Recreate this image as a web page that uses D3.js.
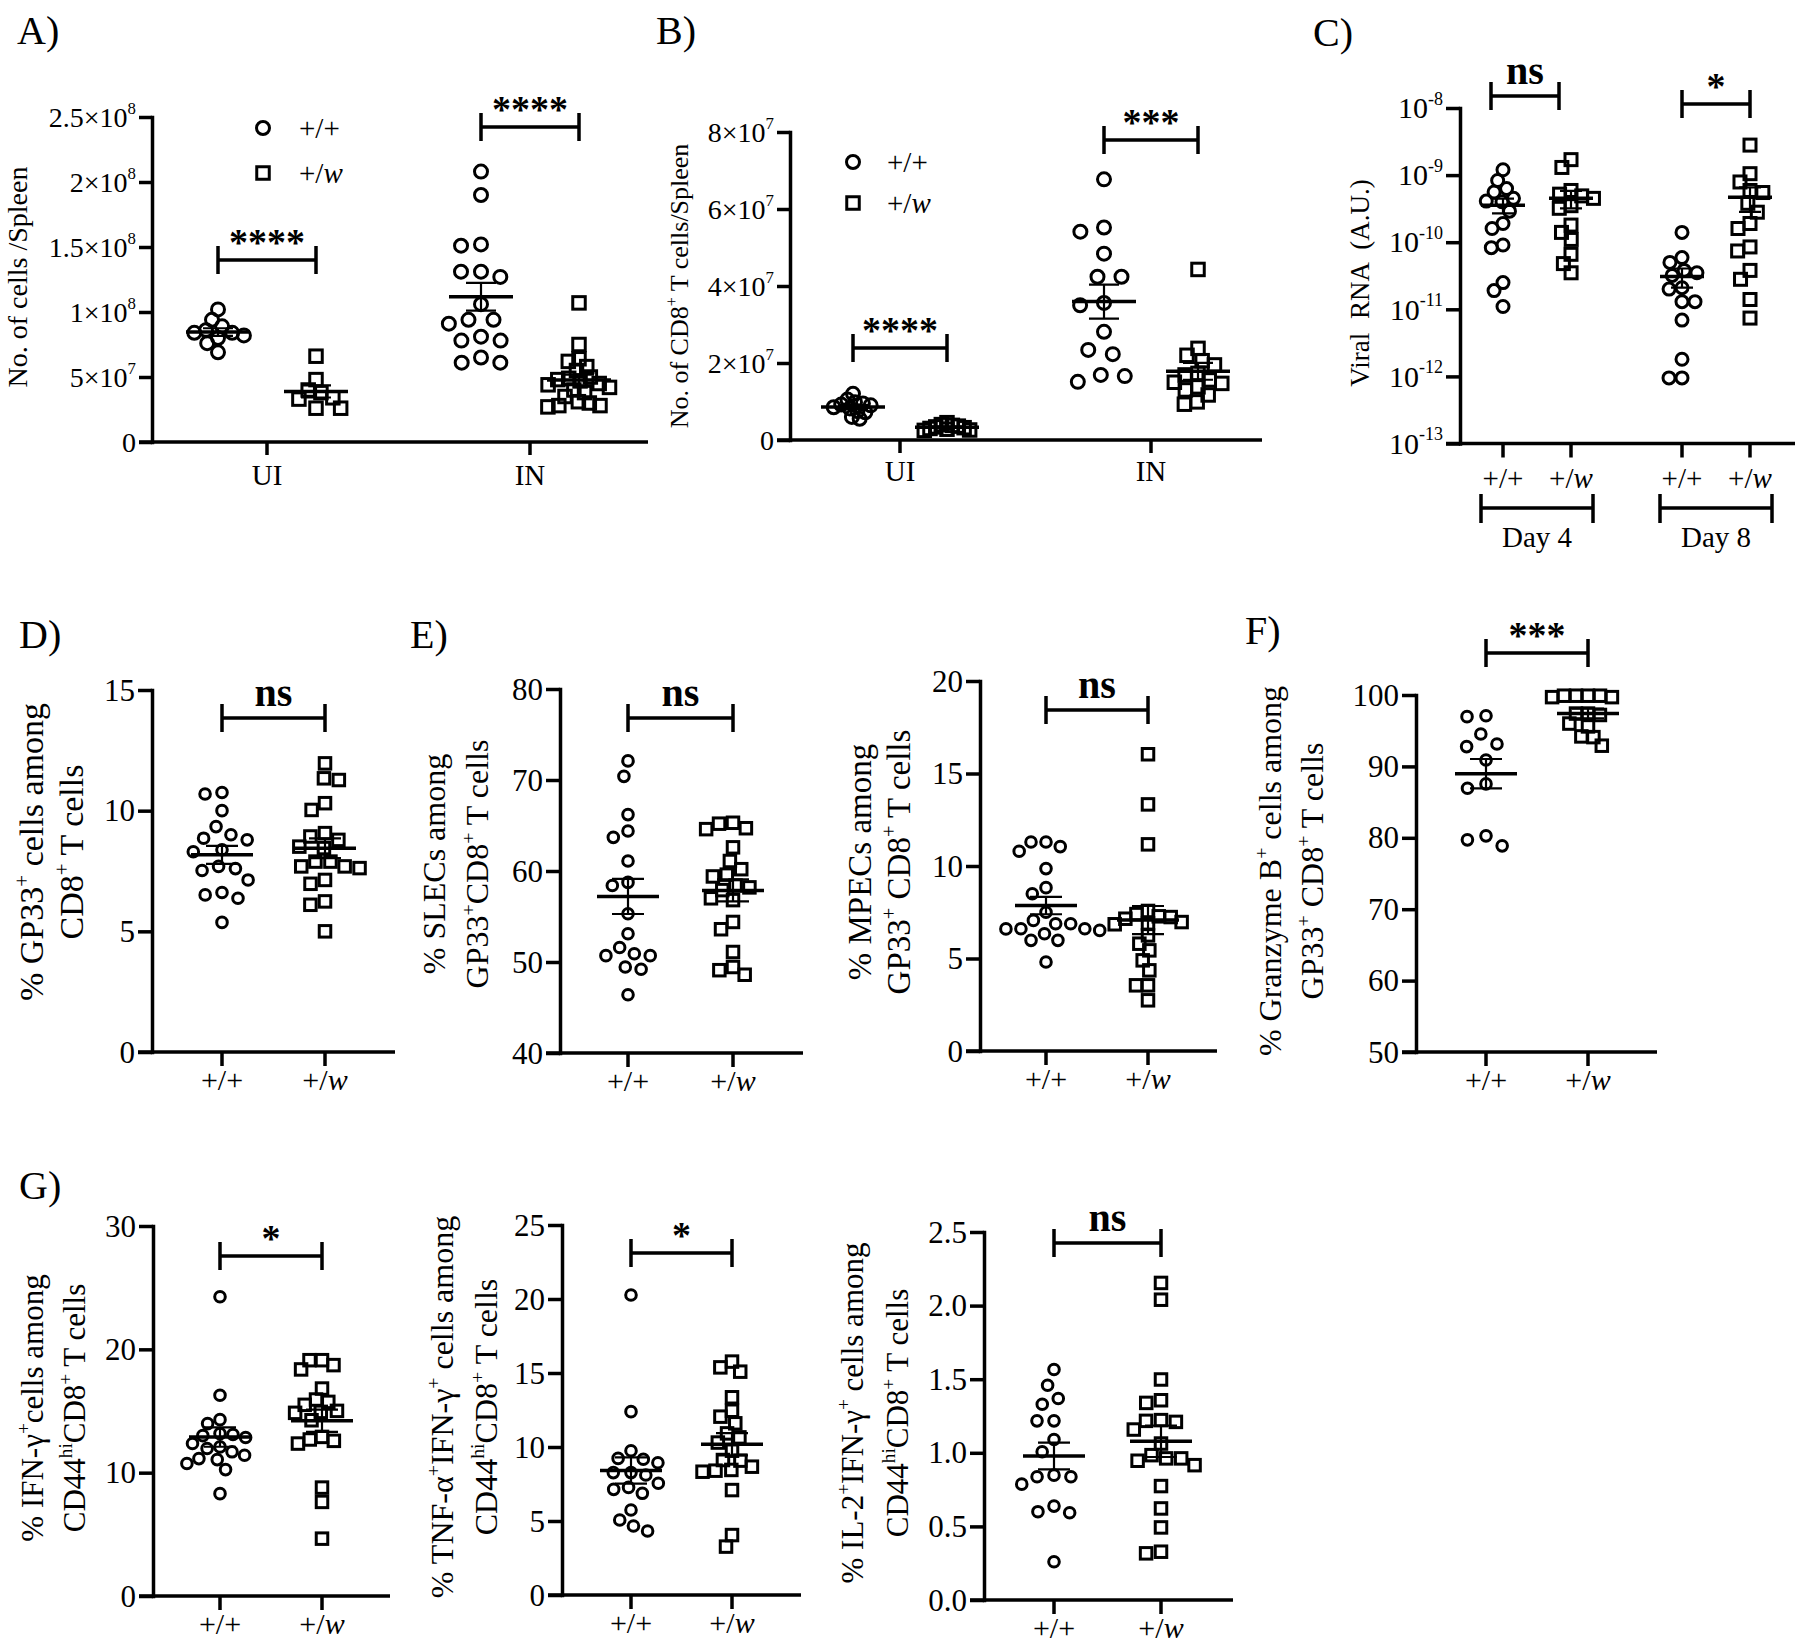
<!DOCTYPE html>
<html><head><meta charset="utf-8">
<script src="https://cdn.jsdelivr.net/npm/d3@7"></script>
<style>
body{margin:0;background:#fff}
svg{display:block}
text{font-family:"Liberation Serif","Times New Roman",serif;fill:#000}
</style>
</head><body><script>
// ---------------- DATA ----------------
const genotypes = ["+/+", "+/w"];
const aCategories = ["UI", "IN"];
const cCategories = ["Day 4", "Day 8"];

// Panel A: No. of cells / spleen
const aUIwt = [1.02e8, 0.94e8, 0.89e8, 0.86e8, 0.84e8, 0.82e8, 0.84e8, 0.80e8, 0.76e8, 0.69e8];
const aUIw  = [0.66e8, 0.48e8, 0.38e8, 0.40e8, 0.34e8, 0.33e8, 0.26e8, 0.26e8];
const aINwt = [2.08e8, 1.90e8, 1.51e8, 1.52e8, 1.27e8, 1.31e8, 1.31e8, 1.06e8, 0.94e8, 0.91e8, 0.94e8, 0.81e8, 0.78e8, 0.78e8, 0.65e8, 0.61e8, 0.61e8];
const aINw  = [1.07e8, 0.75e8, 0.64e8, 0.62e8, 0.58e8, 0.55e8, 0.50e8, 0.49e8, 0.48e8, 0.47e8, 0.45e8, 0.44e8, 0.42e8, 0.40e8, 0.38e8, 0.35e8, 0.31e8, 0.30e8, 0.28e8, 0.28e8, 0.27e8];
const aTicks = [0, 5e7, 1e8, 1.5e8, 2e8, 2.5e8];
const aTickLabels = ["0", "5×10^7", "1×10^8", "1.5×10^8", "2×10^8", "2.5×10^8"];
const aSig = ["****", "****"];

// Panel B: No. of CD8+ T cells / spleen
const bUIwt = [1.2e7, 1.05e7, 0.98e7, 0.95e7, 0.92e7, 0.9e7, 0.85e7, 0.82e7, 0.75e7, 0.72e7, 0.6e7, 0.55e7];
const bUIw  = [4.5e6, 4.0e6, 3.8e6, 3.6e6, 3.4e6, 3.2e6, 3.0e6, 2.8e6, 2.6e6, 2.5e6];
const bINwt = [6.77e7, 5.41e7, 5.52e7, 4.84e7, 4.24e7, 4.24e7, 3.5e7, 3.56e7, 2.81e7, 2.34e7, 2.23e7, 1.69e7, 1.66e7, 1.51e7];
const bINw  = [4.43e7, 2.38e7, 2.2e7, 2.06e7, 1.95e7, 1.73e7, 1.69e7, 1.56e7, 1.5e7, 1.47e7, 1.38e7, 1.30e7, 1.17e7, 0.99e7, 0.93e7];
const bTicks = [0, 2e7, 4e7, 6e7, 8e7];
const bTickLabels = ["0", "2×10^7", "4×10^7", "6×10^7", "8×10^7"];
const bSig = ["****", "***"];

// Panel C: viral RNA (log)
const cD4wt = [1.2e-9, 8.3e-10, 6.3e-10, 5.6e-10, 4.5e-10, 4.1e-10, 4.0e-10, 2.9e-10, 1.9e-10, 1.6e-10, 9.1e-11, 8.3e-11, 2.5e-11, 1.9e-11, 1.1e-11];
const cD4w  = [1.7e-9, 1.3e-9, 5.9e-10, 5.2e-10, 4.9e-10, 4.5e-10, 3.5e-10, 3.2e-10, 1.8e-10, 1.4e-10, 1.1e-10, 6.6e-11, 4.8e-11, 3.5e-11];
const cD8wt = [1.4e-10, 5.9e-11, 5.0e-11, 3.8e-11, 3.5e-11, 3.2e-11, 2.1e-11, 2.0e-11, 1.3e-11, 1.3e-11, 6.9e-12, 1.8e-12, 9.5e-13, 9.5e-13];
const cD8w  = [2.8e-9, 1.05e-9, 7.9e-10, 5.9e-10, 5.5e-10, 3.8e-10, 2.8e-10, 1.9e-10, 1.6e-10, 8.5e-11, 7.4e-11, 3.8e-11, 2.8e-11, 1.4e-11, 7.4e-12];
const cTicks = [1e-13, 1e-12, 1e-11, 1e-10, 1e-9, 1e-8];
const cTickLabels = ["10^-13", "10^-12", "10^-11", "10^-10", "10^-9", "10^-8"];
const cSig = ["ns", "*"];

// Panel D: % GP33+ among CD8+
const dWt = [10.75, 10.69, 10.0, 9.34, 9.0, 8.86, 8.79, 8.38, 8.3, 7.69, 7.6, 7.52, 7.13, 6.61, 6.51, 6.37, 5.37];
const dW  = [11.96, 11.34, 11.27, 10.31, 10.03, 9.07, 8.93, 8.79, 8.51, 8.45, 7.89, 7.89, 7.69, 7.62, 7.69, 7.13, 6.97, 6.24, 6.1, 5.0];
const dTicks = [0, 5, 10, 15];
const dTickLabels = ["0", "5", "10", "15"];

// Panel E (left): % SLECs
const e1Wt = [72.1, 70.4, 66.2, 64.4, 63.7, 61.1, 58.75, 58.4, 55.3, 53.1, 51.6, 50.7, 50.7, 50.9, 49.2, 49.45, 46.4];
const e1W  = [65.2, 64.6, 64.7, 65.3, 62.6, 61.1, 60.2, 59.4, 59.6, 58.2, 58.4, 57.9, 57.0, 56.8, 54.4, 53.6, 51.1, 49.45, 49.1, 48.6];
const e1Ticks = [40, 50, 60, 70, 80];
const e1TickLabels = ["40", "50", "60", "70", "80"];

// Panel E (right): % MPECs
const e2Wt = [11.3, 11.3, 11.05, 10.8, 9.86, 8.83, 8.5, 7.5, 7.06, 6.88, 6.88, 6.61, 6.52, 6.61, 6.6, 6.34, 5.98, 5.98, 4.81];
const e2W  = [16.04, 13.33, 11.17, 7.57, 7.4, 7.28, 7.24, 7.15, 6.97, 6.9, 6.85, 6.25, 5.8, 5.44, 4.9, 4.36, 3.55, 3.55, 2.74];
const e2Ticks = [0, 5, 10, 15, 20];
const e2TickLabels = ["0", "5", "10", "15", "20"];

// Panel F: % Granzyme B+
const fWt = [97.1, 96.97, 94.54, 93.14, 92.77, 90.9, 87.55, 86.94, 80.27, 79.71, 78.87];
const fW  = [99.7, 99.9, 99.9, 99.9, 99.9, 99.7, 97.4, 97.4, 97.2, 96.0, 95.6, 94.2, 94.1, 92.9];
const fTicks = [50, 60, 70, 80, 90, 100];
const fTickLabels = ["50", "60", "70", "80", "90", "100"];

// Panel G1: % IFN-g+
const g1Wt = [24.26, 16.28, 14.3, 13.98, 13.17, 13.09, 13.0, 12.85, 12.36, 12.09, 11.96, 11.69, 11.41, 11.14, 11.06, 10.74, 10.25, 8.3];
const g1W  = [19.12, 19.12, 18.72, 18.37, 16.82, 15.93, 15.74, 15.5, 15.01, 14.93, 14.85, 14.25, 12.9, 12.69, 12.58, 12.36, 8.79, 7.63, 4.65];
const g1Ticks = [0, 10, 20, 30];
const g1TickLabels = ["0", "10", "20", "30"];

// Panel G2: % TNF-a+ IFN-g+
const g2Wt = [20.27, 12.39, 9.75, 9.23, 8.94, 9.17, 8.11, 8.27, 8.27, 7.55, 7.14, 6.87, 7.27, 5.74, 5.07, 4.32, 4.66];
const g2W  = [15.77, 15.38, 15.09, 13.36, 12.45, 12.05, 11.6, 10.92, 10.65, 10.3, 9.75, 9.12, 9.08, 8.67, 8.45, 8.4, 8.33, 7.09, 4.05, 3.27];
const g2Ticks = [0, 5, 10, 15, 20, 25];
const g2TickLabels = ["0", "5", "10", "15", "20", "25"];

// Panel G3: % IL-2+ IFN-g+
const g3Wt = [1.566, 1.459, 1.369, 1.33, 1.217, 1.217, 1.09, 1.007, 0.848, 0.837, 0.837, 0.787, 0.638, 0.6, 0.593, 0.26];
const g3W  = [2.154, 2.04, 1.498, 1.339, 1.357, 1.222, 1.158, 1.21, 1.217, 1.063, 0.984, 0.946, 0.962, 0.916, 0.962, 0.774, 0.622, 0.493, 0.317, 0.328];
const g3Ticks = [0, 0.5, 1.0, 1.5, 2.0, 2.5];
const g3TickLabels = ["0.0", "0.5", "1.0", "1.5", "2.0", "2.5"];

const singleSig = { D: "ns", E1: "ns", E2: "ns", F: "***", G1: "*", G2: "*", G3: "ns" };

// ---------------- DRAWING ----------------
const W = 1800, H = 1652;
const AXW = 3.5;
const svg = d3.select("body").append("svg").attr("width", W).attr("height", H);
svg.append("rect").attr("width", W).attr("height", H).attr("fill", "#fff");

function rich(sel, str, fs, supScale = 0.62, supRise = 0.42) {
  const re = /\^\{([^}]*)\}|~\{([^}]*)\}|([^\^~]+)/g;
  let m, shift = 0;
  while ((m = re.exec(str))) {
    if (m[1] !== undefined) {
      const ns = -supRise * fs;
      sel.append("tspan").attr("dy", ns - shift).attr("font-size", fs * supScale).text(m[1]);
      shift = ns;
    } else if (m[2] !== undefined) {
      sel.append("tspan").attr("dy", -shift).attr("font-size", fs).attr("font-style", "italic").text(m[2]);
      shift = 0;
    } else {
      sel.append("tspan").attr("dy", -shift).attr("font-size", fs).text(m[3]);
      shift = 0;
    }
  }
}
const genoMarkup = g => g.replace("w", "~{w}");

function swarm(values, y, d) {
  const pts = values.map(v => ({ v, y: y(v) })).sort((a, b) => a.y - b.y);
  const placed = [];
  for (const p of pts) {
    const cands = [0];
    for (const q of placed) {
      const dy = Math.abs(q.y - p.y);
      if (dy < d) {
        const dx = Math.sqrt(d * d - dy * dy);
        cands.push(q.x + dx + 1e-6, q.x - dx - 1e-6);
      }
    }
    cands.sort((a, b) => Math.abs(a) - Math.abs(b) || a - b);
    for (const c of cands) {
      if (placed.every(q => (q.x - c) ** 2 + (q.y - p.y) ** 2 >= d * d - 1e-3)) { p.x = c; break; }
    }
    placed.push(p);
  }
  return pts;
}

function drawPanel(c) {
  const g = svg.append("g");
  const y = c.y;
  // Y axis
  const ax = d3.axisLeft(y).tickValues(c.ticks).tickSize(c.tickLen).tickSizeOuter(0).tickFormat("");
  const gy = g.append("g").attr("transform", `translate(${c.axisX},0)`).call(ax);
  gy.select(".domain").attr("stroke", "#000").attr("stroke-width", AXW).attr("stroke-linecap", "square");
  gy.selectAll(".tick line").attr("stroke", "#000").attr("stroke-width", AXW);
  c.ticks.forEach((t, i) => {
    const tx = g.append("text").attr("x", c.axisX - c.tickLen - 3)
      .attr("y", y(t) + 0.34 * c.tickFs).attr("text-anchor", "end").attr("font-size", c.tickFs);
    rich(tx, c.tickLabels[i].replace(/\^(.+)$/, "^{$1}"), c.tickFs, 0.6, 0.45);
  });
  // X axis
  const yb = y.range()[0];
  g.append("line").attr("x1", c.axisX - c.tickLen).attr("x2", c.xRight)
    .attr("y1", yb).attr("y2", yb).attr("stroke", "#000").attr("stroke-width", AXW);
  const pos = gr => c.xCat(gr.cat) + (c.xSub ? c.xSub(gr.gen) : 0);
  const tickXs = c.tickAtGroups ? c.groups.map(pos) : c.xCat.domain().map(k => c.xCat(k));
  tickXs.forEach(x => g.append("line").attr("x1", x).attr("x2", x).attr("y1", yb).attr("y2", yb + c.tickLen)
    .attr("stroke", "#000").attr("stroke-width", AXW));
  // X labels
  if (c.tickAtGroups) {
    c.groups.forEach(gr => {
      const t = g.append("text").attr("x", pos(gr)).attr("y", c.xLabelY).attr("text-anchor", "middle").attr("font-size", c.xLabelFs);
      rich(t, genoMarkup(gr.gen), c.xLabelFs);
    });
  } else {
    c.xCat.domain().forEach(k => g.append("text").attr("x", c.xCat(k)).attr("y", c.xLabelY)
      .attr("text-anchor", "middle").attr("font-size", c.xLabelFs).text(k));
  }
  // Title
  c.title.lines.forEach((ln, i) => {
    const t = g.append("text").attr("transform", `translate(${c.title.xs[i]},${c.title.cy}) rotate(-90)`)
      .attr("text-anchor", "middle").attr("font-size", c.title.fs);
    if (c.title.ws) t.attr("word-spacing", c.title.ws);
    rich(t, ln, c.title.fs);
  });
  // Points + mean/SEM
  c.groups.forEach(gr => {
    const cx = pos(gr);
    const pts = swarm(gr.values, y, gr.d);
    if (gr.gen === "+/+") {
      g.selectAll(null).data(pts).join("circle").attr("cx", p => cx + p.x).attr("cy", p => p.y)
        .attr("r", c.r).attr("fill", "none").attr("stroke", "#000").attr("stroke-width", c.sw);
    } else {
      g.selectAll(null).data(pts).join("rect").attr("x", p => cx + p.x - c.sq / 2).attr("y", p => p.y - c.sq / 2)
        .attr("width", c.sq).attr("height", c.sq).attr("fill", "none").attr("stroke", "#000").attr("stroke-width", c.sw);
    }
    const m = d3.mean(gr.values);
    const sem = d3.deviation(gr.values) / Math.sqrt(gr.values.length);
    g.append("line").attr("x1", cx - c.mw / 2).attr("x2", cx + c.mw / 2).attr("y1", y(m)).attr("y2", y(m))
      .attr("stroke", "#000").attr("stroke-width", 3.5);
    g.append("path").attr("d",
      `M${cx},${y(m + sem)}V${y(m - sem)}M${cx - c.cw / 2},${y(m + sem)}H${cx + c.cw / 2}M${cx - c.cw / 2},${y(m - sem)}H${cx + c.cw / 2}`)
      .attr("stroke", "#000").attr("stroke-width", 2.2).attr("fill", "none");
  });
  // Significance
  c.sig.forEach(s => {
    const dx = s.dx || 0;
    const x1 = (c.xSub ? c.xCat(s.cat) + c.xSub(genotypes[0]) : c.xCat(genotypes[0])) + dx;
    const x2 = (c.xSub ? c.xCat(s.cat) + c.xSub(genotypes[1]) : c.xCat(genotypes[1])) + dx;
    g.append("path").attr("d", `M${x1},${s.y - 14}V${s.y + 14}M${x1},${s.y}H${x2}M${x2},${s.y - 14}V${s.y + 14}`)
      .attr("stroke", "#000").attr("stroke-width", AXW).attr("fill", "none");
    const isNs = s.label === "ns";
    g.append("text").attr("x", (x1 + x2) / 2).attr("y", isNs ? s.y - 12 : s.y - 5)
      .attr("text-anchor", "middle").attr("font-weight", "bold").attr("font-size", isNs ? 40 : 38).text(s.label);
  });
  return g;
}

function panelLetter(txt, x, yb) {
  svg.append("text").attr("x", x).attr("y", yb).attr("font-size", 40).text(txt);
}
function legend(cx, cy1, cy2, tx, r, sq, sw) {
  svg.append("circle").attr("cx", cx).attr("cy", cy1).attr("r", r).attr("fill", "none").attr("stroke", "#000").attr("stroke-width", sw);
  svg.append("rect").attr("x", cx - sq / 2).attr("y", cy2 - sq / 2).attr("width", sq).attr("height", sq)
    .attr("fill", "none").attr("stroke", "#000").attr("stroke-width", sw);
  [cy1, cy2].forEach((cy, i) => {
    const t = svg.append("text").attr("x", tx).attr("y", cy + 10).attr("font-size", 29);
    rich(t, genoMarkup(genotypes[i]), 29);
  });
}

// ---- Panel A ----
panelLetter("A)", 17, 44);
drawPanel({
  axisX: 152, xRight: 648, tickLen: 13, tickFs: 28,
  y: d3.scaleLinear().domain([0, 2.5e8]).range([442, 117]),
  ticks: aTicks, tickLabels: aTickLabels,
  xCat: d3.scalePoint().domain(aCategories).range([267, 530]),
  xSub: d3.scalePoint().domain(genotypes).range([-49, 49]),
  groups: [
    { cat: "UI", gen: "+/+", values: aUIwt, d: 12 }, { cat: "UI", gen: "+/w", values: aUIw, d: 13 },
    { cat: "IN", gen: "+/+", values: aINwt, d: 20 }, { cat: "IN", gen: "+/w", values: aINw, d: 11 }],
  tickAtGroups: false, xLabelY: 485, xLabelFs: 29,
  title: { lines: ["No. of cells /Spleen"], xs: [27], cy: 277, fs: 28 },
  r: 6.5, sq: 12.5, sw: 3, mw: 64, cw: 30,
  sig: [{ cat: "UI", y: 260, label: aSig[0] }, { cat: "IN", y: 127, label: aSig[1] }]
});
legend(263, 128, 173, 299, 6.5, 12.5, 3);

// ---- Panel B ----
panelLetter("B)", 656, 44);
drawPanel({
  axisX: 790, xRight: 1262, tickLen: 13, tickFs: 28,
  y: d3.scaleLinear().domain([0, 8e7]).range([440, 132]),
  ticks: bTicks, tickLabels: bTickLabels,
  xCat: d3.scalePoint().domain(aCategories).range([900, 1151]),
  xSub: d3.scalePoint().domain(genotypes).range([-47, 47]),
  groups: [
    { cat: "UI", gen: "+/+", values: bUIwt, d: 8 }, { cat: "UI", gen: "+/w", values: bUIw, d: 6 },
    { cat: "IN", gen: "+/+", values: bINwt, d: 24 }, { cat: "IN", gen: "+/w", values: bINw, d: 13 }],
  tickAtGroups: false, xLabelY: 481, xLabelFs: 29,
  title: { lines: ["No. of CD8^{+} T cells/Spleen"], xs: [688], cy: 286, fs: 26 },
  r: 6.5, sq: 12.5, sw: 3, mw: 64, cw: 30,
  sig: [{ cat: "UI", y: 348, label: bSig[0] }, { cat: "IN", y: 140, label: bSig[1] }]
});
legend(853, 162, 203, 887, 6.5, 12.5, 3);

// ---- Panel C ----
panelLetter("C)", 1313, 46);
const cCfg = {
  axisX: 1460, xRight: 1795, tickLen: 14, tickFs: 30,
  y: d3.scaleLog().domain([1e-13, 1e-8]).range([443.5, 108]),
  ticks: cTicks, tickLabels: cTickLabels,
  xCat: d3.scalePoint().domain(cCategories).range([1537, 1716]),
  xSub: d3.scalePoint().domain(genotypes).range([-34, 34]),
  groups: [
    { cat: "Day 4", gen: "+/+", values: cD4wt, d: 12 }, { cat: "Day 4", gen: "+/w", values: cD4w, d: 12 },
    { cat: "Day 8", gen: "+/+", values: cD8wt, d: 13 }, { cat: "Day 8", gen: "+/w", values: cD8w, d: 13 }],
  tickAtGroups: true, xLabelY: 488, xLabelFs: 29,
  title: { lines: ["Viral RNA (A.U.)"], xs: [1369], cy: 283, fs: 27, ws: 7 },
  r: 6, sq: 12, sw: 3, mw: 44, cw: 22,
  sig: [{ cat: "Day 4", y: 96, label: cSig[0], dx: -12 }, { cat: "Day 8", y: 104, label: cSig[1] }]
};
drawPanel(cCfg);
cCategories.forEach(k => {
  const x1 = cCfg.xCat(k) + cCfg.xSub(genotypes[0]) - 22, x2 = cCfg.xCat(k) + cCfg.xSub(genotypes[1]) + 22;
  svg.append("path").attr("d", `M${x1},494V523M${x1},508H${x2}M${x2},494V523`).attr("stroke", "#000").attr("stroke-width", AXW).attr("fill", "none");
  svg.append("text").attr("x", cCfg.xCat(k)).attr("y", 547).attr("text-anchor", "middle").attr("font-size", 29).text(k);
});

// ---- Panels D-G (two-group) ----
function twoGroup(o) {
  drawPanel({
    axisX: o.axisX, xRight: o.xRight, tickLen: 14, tickFs: 31,
    y: d3.scaleLinear().domain(o.domain).range([o.yBot, o.yTop]),
    ticks: o.ticks, tickLabels: o.tickLabels,
    xCat: d3.scalePoint().domain(genotypes).range(o.gx), xSub: null,
    groups: [{ cat: genotypes[0], gen: "+/+", values: o.wt, d: o.d[0] }, { cat: genotypes[1], gen: "+/w", values: o.w, d: o.d[1] }],
    tickAtGroups: true, xLabelY: o.yBot + 38, xLabelFs: 30,
    title: { lines: o.title, xs: o.tx, cy: o.tcy, fs: o.tfs || 32 },
    r: 5.3, sq: 11.5, sw: 3, mw: 62, cw: 32,
    sig: [{ y: o.sigY, label: o.sig }]
  });
}

panelLetter("D)", 19, 648);
twoGroup({ axisX: 152, xRight: 395, yTop: 690, yBot: 1052, domain: [0, 15], ticks: dTicks, tickLabels: dTickLabels,
  gx: [222, 325], wt: dWt, w: dW, d: [17, 15], title: ["% GP33^{+} cells among", "CD8^{+} T cells"], tx: [43, 83], tcy: 852, tfs: 34,
  sigY: 718, sig: singleSig.D });

panelLetter("E)", 410, 648);
twoGroup({ axisX: 560, xRight: 803, yTop: 689, yBot: 1053, domain: [40, 80], ticks: e1Ticks, tickLabels: e1TickLabels,
  gx: [628, 733], wt: e1Wt, w: e1W, d: [16, 14], title: ["% SLECs among", "GP33^{+}CD8^{+} T cells"], tx: [445, 488], tcy: 864,
  sigY: 718, sig: singleSig.E1 });

twoGroup({ axisX: 980, xRight: 1217, yTop: 681, yBot: 1051, domain: [0, 20], ticks: e2Ticks, tickLabels: e2TickLabels,
  gx: [1046, 1148], wt: e2Wt, w: e2W, d: [15, 12], title: ["% MPECs among", "GP33^{+} CD8^{+} T cells"], tx: [871, 910], tcy: 862, tfs: 33,
  sigY: 710, sig: singleSig.E2 });

panelLetter("F)", 1245, 644);
twoGroup({ axisX: 1416, xRight: 1657, yTop: 695, yBot: 1052, domain: [50, 100], ticks: fTicks, tickLabels: fTickLabels,
  gx: [1486, 1588], wt: fWt, w: fW, d: [19, 12], title: ["% Granzyme B^{+} cells among", "GP33^{+} CD8^{+} T cells"], tx: [1281, 1323], tcy: 871,
  sigY: 653, sig: singleSig.F });

panelLetter("G)", 19, 1199);
twoGroup({ axisX: 153, xRight: 390, yTop: 1226, yBot: 1596, domain: [0, 30], ticks: g1Ticks, tickLabels: g1TickLabels,
  gx: [220, 322], wt: g1Wt, w: g1W, d: [13, 12.5], title: ["% IFN-γ^{+}cells among", "CD44^{hi}CD8^{+} T cells"], tx: [43, 85], tcy: 1408, tfs: 31,
  sigY: 1256, sig: singleSig.G1 });

twoGroup({ axisX: 562, xRight: 801, yTop: 1225, yBot: 1595, domain: [0, 25], ticks: g2Ticks, tickLabels: g2TickLabels,
  gx: [631, 732], wt: g2Wt, w: g2W, d: [15, 13], title: ["% TNF-α^{+}IFN-γ^{+} cells among", "CD44^{hi}CD8^{+} T cells"], tx: [453, 497], tcy: 1407,
  sigY: 1253, sig: singleSig.G2 });

twoGroup({ axisX: 984, xRight: 1233, yTop: 1232, yBot: 1600, domain: [0, 2.5], ticks: g3Ticks, tickLabels: g3TickLabels,
  gx: [1054, 1161], wt: g3Wt, w: g3W, d: [17, 15], title: ["% IL-2^{+}IFN-γ^{+} cells among", "CD44^{hi}CD8^{+} T cells"], tx: [863, 908], tcy: 1413, tfs: 31,
  sigY: 1243, sig: singleSig.G3 });
</script></body></html>
